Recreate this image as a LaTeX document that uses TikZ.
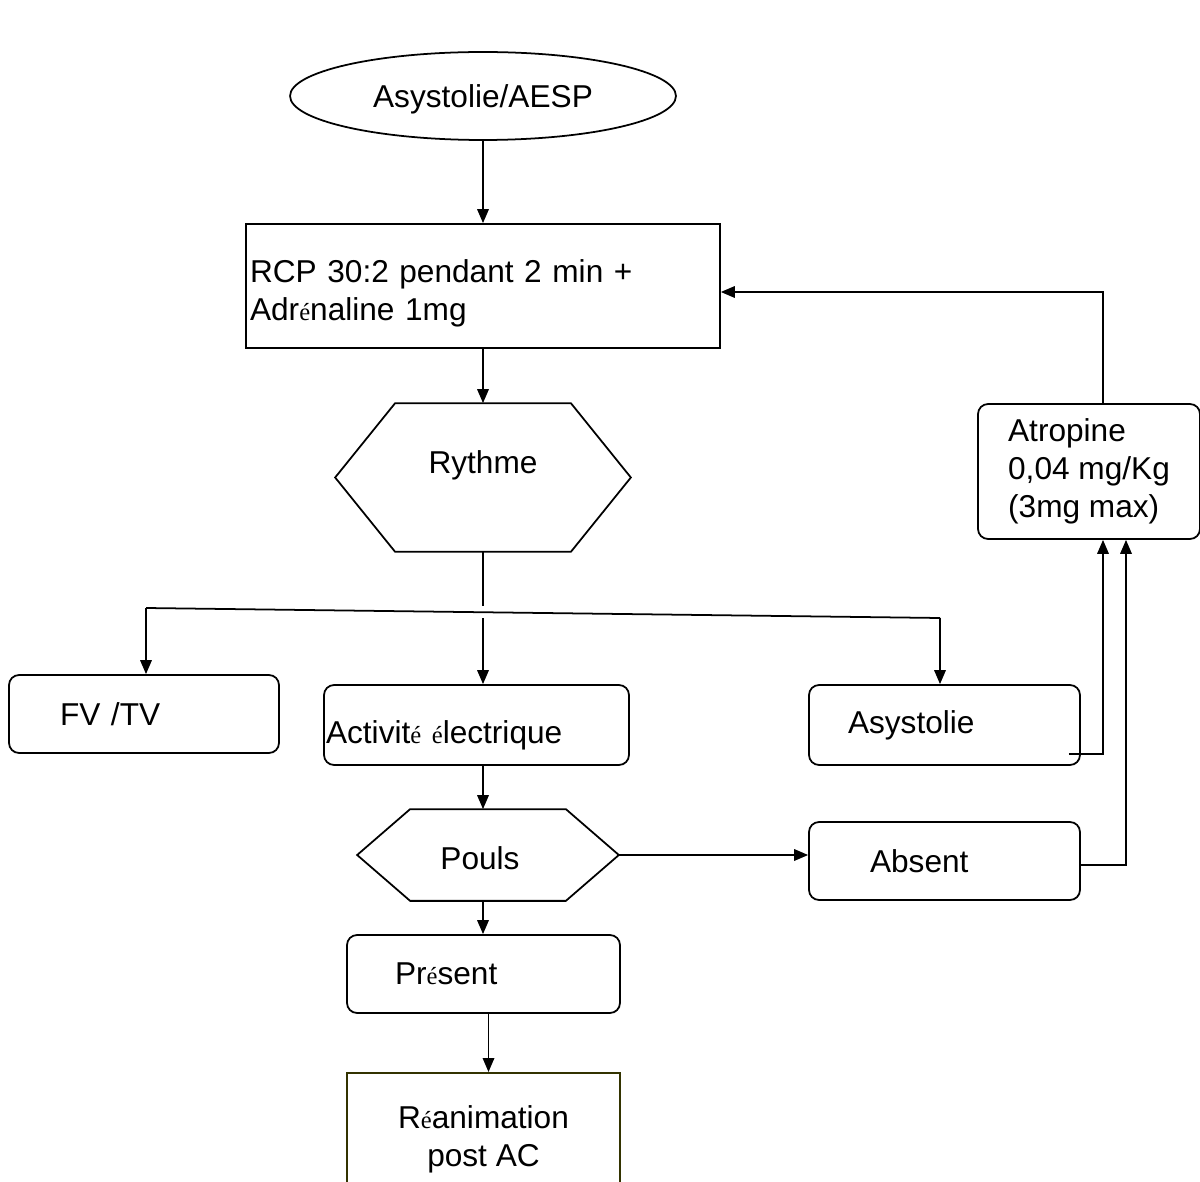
\documentclass[tikz,border=0pt]{standalone}
\usepackage{fontspec}
\setmainfont{Liberation Sans}
\newfontfamily\accentfont{Liberation Serif}
\usetikzlibrary{shapes.geometric,arrows.meta}
% the accented e is set smaller, in a serif, as in the original
\newcommand{\eac}{{\accentfont\fontsize{14}{16}\selectfont é}}
% move the ink of a text down, keeping its box
\newcommand{\txtdown}[2]{\raisebox{-#1}[\height][\depth]{#2}}
\definecolor{boxolive}{RGB}{51,51,0}
\begin{document}
\begin{tikzpicture}[x=0.02cm,y=-0.02cm,line width=1pt]
        \tikzstyle{every node}=[font=\fontsize{18}{21.6}\selectfont,inner sep=0pt];
        \tikzstyle{arr}=[-{Triangle[length=0.28cm,width=0.23cm]}];
        \tikzstyle{rbox}=[draw,rounded corners=0.2cm,minimum height=1.56cm,align=left];
        \tikzstyle{hexa}=[minimum width=5.88cm,minimum height=2.94cm];
          \useasboundingbox (0,0) rectangle (1200,1182);

          \node(start)[draw,ellipse,minimum width=7.72cm,minimum height=1.76cm] at (483,96) {\txtdown{0.06cm}{Asystolie/AESP}};
          \node(rcp)[draw,minimum width=9.48cm,minimum height=2.48cm,text width=9.32cm,inner xsep=0.08cm,align=left]
            at (483,286) {\txtdown{0.16cm}{\begin{tabular}{@{}l@{}}RCP 30:2 pendant 2 min +\\Adr\eac naline 1mg\end{tabular}}};

          % hexagons: text node, outline drawn from its anchors
          \node(rythme)[hexa] at (483,477.5) {\txtdown{-0.24cm}{Rythme}};
          \draw (rythme.west) -- ([xshift=1.2cm]rythme.north west) -- ([xshift=-1.2cm]rythme.north east)
            -- (rythme.east) -- ([xshift=-1.2cm]rythme.south east) -- ([xshift=1.2cm]rythme.south west) -- cycle;
          \node(pouls)[hexa,minimum width=5.2cm,minimum height=1.8cm] at (488,855) {\txtdown{0.06cm}{Pouls}\kern0.32cm};
          \draw (pouls.west) -- ([xshift=1.06cm]pouls.north west) -- ([xshift=-1.06cm]pouls.north east)
            -- (pouls.east) -- ([xshift=-1.06cm]pouls.south east) -- ([xshift=1.06cm]pouls.south west) -- cycle;

          \node(fvtv)[rbox,minimum width=5.4cm,text width=3.36cm,inner xsep=1.02cm] at (144,714) {FV /TV};
          \node(activ)[rbox,minimum width=6.1cm,minimum height=1.6cm,text width=6.02cm,inner xsep=0.04cm] at (476.5,725) {\txtdown{0.2cm}{Activit\eac{} \eac lectrique}};
          \node(asys)[rbox,minimum width=5.42cm,minimum height=1.6cm,text width=3.86cm,inner xsep=0.78cm] at (944.5,725) {Asystolie};
          \node(atro)[rbox,minimum width=4.44cm,minimum height=2.7cm] at (1089,471.5) {Atropine\\0,04 mg/Kg\\(3mg max)};
          \node(absent)[rbox,minimum width=5.42cm,text width=2.98cm,inner xsep=1.22cm] at (944.5,861) {Absent};
          \node(present)[rbox,minimum width=5.46cm,text width=3.54cm,inner xsep=0.96cm] at (483.5,974) {Pr\eac sent};
          \node(reanim)[draw=boxolive,anchor=north,minimum width=5.46cm,minimum height=2.64cm,align=center]
            at (483.5,1072) {R\eac animation\\post AC};

          \coordinate(brT) at (483,606);
          \coordinate(brM) at (483,618);
          \coordinate(brL) at (146,608);
          \coordinate(brR) at (940,618);

          \draw[arr] (start) -- (rcp);
          \draw[arr] (rcp) -- (rythme.north);
          \draw (rythme.south) -- (brT);
          \draw (brL) -- (brR);
          \draw[arr] (brL) -- (brL |- fvtv.north);
          \draw[arr] (brM) -- (activ.north -| brM);
          \draw[arr] (brR) -- (brR |- asys.north);
          \draw[arr] (activ.south -| brM) -- (pouls.north -| brM);
          \draw[arr] (pouls.east) -- (pouls.east -| absent.west);
          \draw[arr] (pouls.south -| brM) -- (present.north -| brM);
          \draw[arr] ([xshift=0.1cm]present.south) -- ([xshift=0.1cm]reanim.north);

          % back to the RCP loop
          \draw[arr] ([xshift=-0.24cm,yshift=0.24cm]asys.south east) -| ([xshift=0.28cm]atro.south);
          \draw[arr] ([yshift=-0.08cm]absent.east) -| ([xshift=0.74cm]atro.south);
          \draw[arr] ([xshift=0.28cm]atro.north) |- ([yshift=-0.12cm]rcp.east);
      \end{tikzpicture}
\end{document}
